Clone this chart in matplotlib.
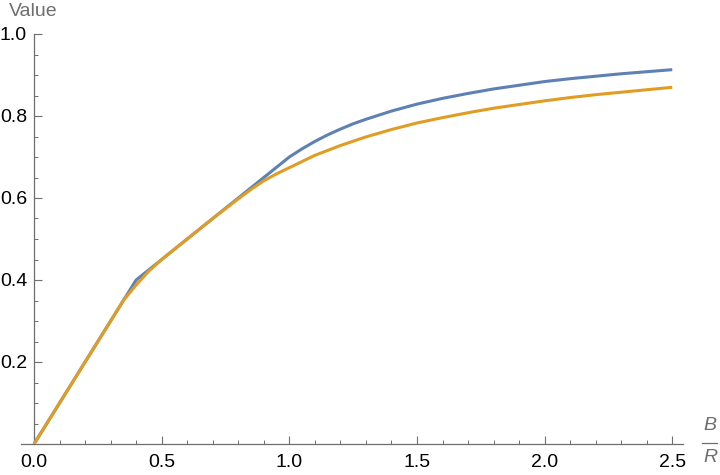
import matplotlib
matplotlib.use("Agg")
import matplotlib.pyplot as plt
from matplotlib.ticker import MultipleLocator, FixedLocator
from matplotlib.lines import Line2D

plt.rcParams['font.family'] = ['Liberation Sans', 'DejaVu Sans']

# Data
blue_x = [0.0, 0.4, 0.5, 0.6, 0.7, 0.8, 0.85, 0.9, 0.95, 1.0, 1.05, 1.1, 1.15, 1.2, 1.25, 1.3,
          1.4, 1.5, 1.6, 1.7, 1.8, 1.9, 2.0, 2.1, 2.2, 2.3, 2.4, 2.5]
blue_y = [0.0, 0.4, 0.45, 0.5, 0.55, 0.6, 0.625, 0.65, 0.675, 0.70, 0.72, 0.738, 0.754, 0.768,
          0.781, 0.792, 0.812, 0.829, 0.843, 0.855, 0.866, 0.875, 0.884, 0.891, 0.897, 0.903,
          0.908, 0.913]

orange_x = [0.0, 0.35, 0.4, 0.45, 0.5, 0.6, 0.7, 0.8, 0.85, 0.9, 0.95, 1.0, 1.1, 1.2, 1.3,
            1.4, 1.5, 1.6, 1.7, 1.8, 1.9, 2.0, 2.1, 2.2, 2.3, 2.4, 2.5]
orange_y = [0.0, 0.35, 0.388, 0.422, 0.45, 0.50, 0.55, 0.598, 0.621, 0.642, 0.659, 0.674, 0.704,
            0.728, 0.749, 0.767, 0.783, 0.796, 0.808, 0.819, 0.828, 0.837, 0.845, 0.852, 0.858,
            0.864, 0.870]

x_major = [0.0, 0.5, 1.0, 1.5, 2.0, 2.5]
x_labels = ["0.0", "0.5", "1.0", "1.5", "2.0", "2.5"]
y_major = [0.2, 0.4, 0.6, 0.8, 1.0]
y_labels = ["0.2", "0.4", "0.6", "0.8", "1.0"]

W, H = 720, 475
fig = plt.figure(figsize=(W / 100, H / 100), dpi=100)
ax = fig.add_axes([21 / W, (H - 444) / H, (683 - 21) / W, (444 - 34) / H])

ax.plot(blue_x, blue_y, color='#5E81B5', lw=2.2, solid_capstyle='butt',
        solid_joinstyle='round', zorder=3)
ax.plot(orange_x, orange_y, color='#E19C24', lw=2.2, solid_capstyle='butt',
        solid_joinstyle='round', zorder=4)

ax.set_xlim(-0.051, 2.542)
ax.set_ylim(0, 1.0)

for s in ['top', 'right']:
    ax.spines[s].set_visible(False)
ax.spines['left'].set_position(('data', 0))
ax.spines['bottom'].set_position(('data', 0))
axis_gray = '#6e6e6e'
for s in ['left', 'bottom']:
    ax.spines[s].set_color(axis_gray)
    ax.spines[s].set_linewidth(0.9)

ax.xaxis.set_major_locator(FixedLocator(x_major))
ax.set_xticklabels(x_labels)
ax.xaxis.set_minor_locator(MultipleLocator(0.1))
ax.yaxis.set_major_locator(FixedLocator(y_major))
ax.set_yticklabels(y_labels)
ax.yaxis.set_minor_locator(MultipleLocator(0.05))

ax.tick_params(axis='both', which='major', direction='in', length=5.5, width=0.8,
               color=axis_gray, labelsize=14, labelcolor='black')
ax.tick_params(axis='both', which='minor', direction='in', length=3.2, width=0.7,
               color=axis_gray)
ax.tick_params(axis='x', which='major', pad=7)
ax.tick_params(axis='y', which='major', pad=5)

fig.text(9 / W, (H - 12) / H, "Value", color='#6e6e6e', fontsize=14,
         ha='left', va='center')
fig.text(710 / W, (H - 426) / H, "B", color='#6e6e6e', fontsize=14, style='italic',
         ha='center', va='center')
fig.text(710 / W, (H - 457) / H, "R", color='#6e6e6e', fontsize=14, style='italic',
         ha='center', va='center')
fig.add_artist(Line2D([702 / W, 717 / W], [(H - 443) / H, (H - 443) / H],
                      transform=fig.transFigure, color='#6e6e6e', lw=0.9))

fig.savefig("out.png", dpi=100)
